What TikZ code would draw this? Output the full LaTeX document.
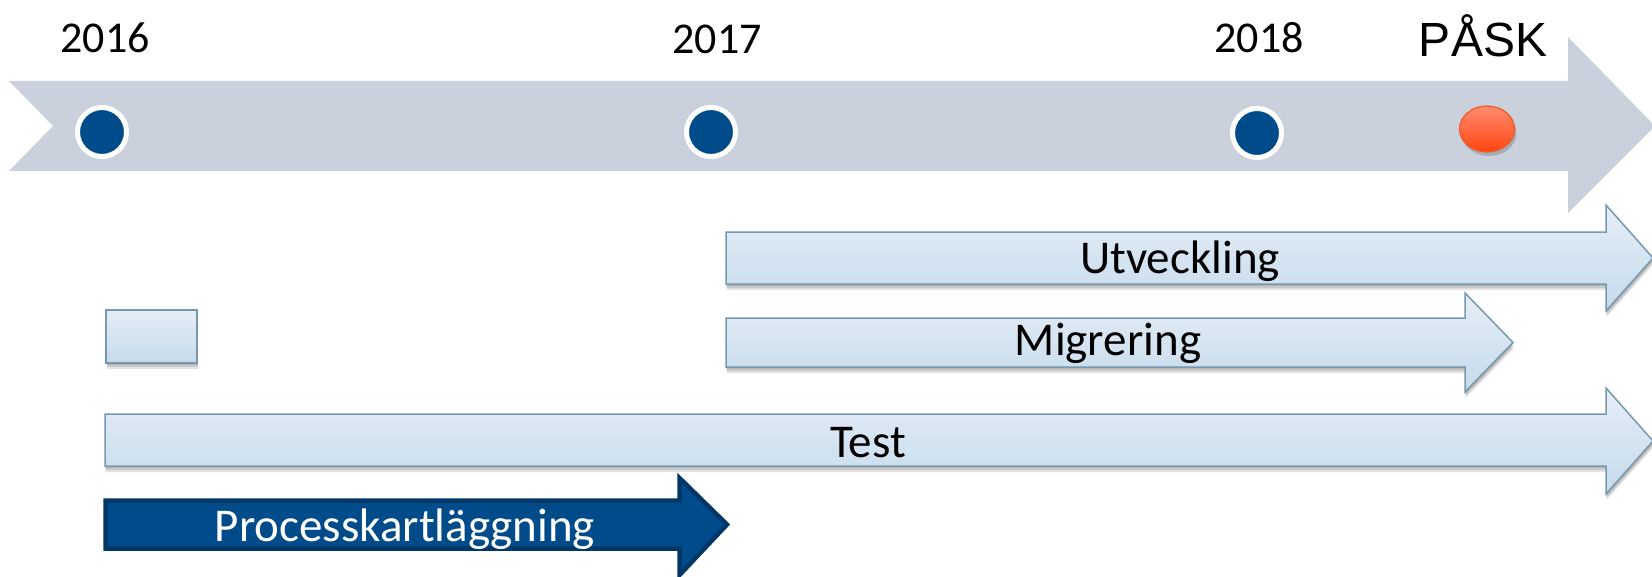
\documentclass[tikz,border=0pt]{standalone}
\usepackage{fontspec}
\newfontfamily\carlito{Carlito}
\newfontfamily\arialf{Liberation Sans}
\usetikzlibrary{shapes.geometric}
\definecolor{bandgrey}{HTML}{CBD1DC}
\definecolor{dotblue}{HTML}{004C8B}
\definecolor{bartop}{HTML}{E5EEF7}
\definecolor{barbot}{HTML}{C5DAEB}
\definecolor{barborder}{HTML}{7898AE}
\definecolor{darkfill}{HTML}{004B89}
\definecolor{darkborder}{HTML}{003767}
\definecolor{orangetop}{HTML}{FF8C70}
\definecolor{orangebot}{HTML}{FF4510}
\definecolor{orangeedge}{HTML}{F05A20}
\tikzset{
  lbar/.style={draw=barborder, line width=0.75pt, top color=bartop, bottom color=barbot, line join=miter},
  shade1/.style={fill=black, opacity=0.11},
  dot/.style={circle, fill=dotblue, draw=white, line width=2.5pt, minimum size=24.5pt, inner sep=0pt},
  yearlbl/.style={font=\carlito\fontsize{22}{26}\selectfont, anchor=base, inner sep=0pt},
  barlbl/.style={font=\carlito\fontsize{23.5}{27}\selectfont, anchor=base, inner sep=0pt},
}
\newcommand\utvpath{(726,232) -- (1606,232) -- (1606,205) -- (1653,258) -- (1606,311) -- (1606,284) -- (726,284) -- cycle}
\newcommand\migpath{(726,318) -- (1465,318) -- (1465,293) -- (1513,342.5) -- (1465,392) -- (1465,367) -- (726,367) -- cycle}
\newcommand\testpath{(105,414) -- (1606,414) -- (1606,388) -- (1653,441) -- (1606,494) -- (1606,466) -- (105,466) -- cycle}
\newcommand\boxpath{(106,310) rectangle (197,363)}
\begin{document}
\begin{tikzpicture}[x=0.5pt, y=-0.5pt]
\useasboundingbox (0,0) rectangle (1652,577);
% main grey timeline arrow
\fill[bandgrey] (9,81) -- (1568,81) -- (1568,37) -- (1655,126) -- (1568,213) -- (1568,171) -- (9,171) -- (53,126) -- cycle;
% year labels
\node[yearlbl] (y2016) at (105,53) {2016};
\node[yearlbl] (y2017) at (717,54) {2017};
\node[yearlbl] (y2018) at (1259,53) {2018};
\node[font=\arialf\fontsize{24}{28}\selectfont, anchor=base, inner sep=0pt] (pask) at (1483,57) {PÅSK};
% dots
\node[dot] (d2016) at (102,132) {};
\node[dot] (d2017) at (711,132) {};
\node[dot] (d2018) at (1257,133) {};
\fill[black, opacity=0.18] (1489,133) ellipse (13.75pt and 11.5pt);
\node[ellipse, minimum width=27.5pt, minimum height=23pt, inner sep=0pt, top color=orangetop, bottom color=orangebot, draw=orangeedge, line width=0.6pt] (dpask) at (1487,129) {};
% shadows of light bars
\foreach \s in {1.0,2.0,3.0} {
  \fill[shade1, yshift=-\s pt, xshift=0.3pt] \utvpath;
  \fill[shade1, yshift=-\s pt, xshift=0.3pt] \migpath;
  \fill[shade1, yshift=-\s pt, xshift=0.3pt] \testpath;
  \fill[shade1, yshift=-\s pt, xshift=0.3pt] \boxpath;
}
% light bars
\path[lbar] \utvpath;
\path[lbar] \migpath;
\path[lbar] \testpath;
\path[lbar] \boxpath;
\node[barlbl] (utv) at (1180,273) {Utveckling};
\node[barlbl] (mig) at (1108,355) {Migrering};
\node[barlbl] (test) at (868,457) {Test};
% dark process arrow
\fill[darkfill, draw=darkborder, line width=2.25pt, line join=miter] (105.5,500.5) -- (679.5,500.5) -- (679.5,478) -- (727,524.5) -- (679.5,575) -- (679.5,548.5) -- (105.5,548.5) -- cycle;
\node[barlbl, text=white] (proc) at (405,541) {Processkartläggning};
\end{tikzpicture}
\end{document}
